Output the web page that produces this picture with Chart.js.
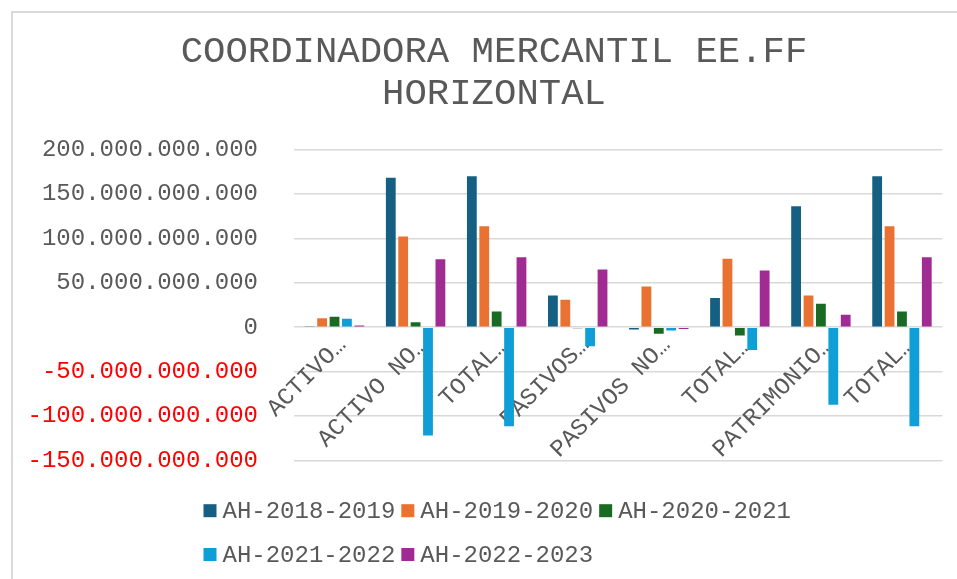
<!DOCTYPE html>
<html>
<head>
<meta charset="utf-8">
<script src="https://cdn.jsdelivr.net/npm/chart.js@4/dist/chart.umd.min.js"></script>
<style>
  html, body { margin: 0; padding: 0; background: #ffffff; }
  #wrap { width: 957px; height: 579px; }
</style>
</head>
<body>
<div id="wrap"><canvas id="c" width="957" height="579"></canvas></div>
<script>
// ---- data ----
const titleLines = ['COORDINADORA MERCANTIL EE.FF', 'HORIZONTAL'];
const categories = ['ACTIVO…', 'ACTIVO NO…', 'TOTAL…', 'PASIVOS…', 'PASIVOS NO…', 'TOTAL…', 'PATRIMONIO…', 'TOTAL…'];
const seriesNames = ['AH-2018-2019', 'AH-2019-2020', 'AH-2020-2021', 'AH-2021-2022', 'AH-2022-2023'];
const ah2018_2019 = [1.0e9, 168.0e9, 169.9e9, 35.7e9, -2.5e9, 32.7e9, 136.0e9, 169.9e9];
const ah2019_2020 = [10.1e9, 102.0e9, 113.5e9, 30.8e9, 45.8e9, 77.0e9, 35.7e9, 113.5e9];
const ah2020_2021 = [11.7e9, 5.6e9, 17.7e9, -1.2e9, -7.3e9, -9.4e9, 26.3e9, 17.7e9];
const ah2021_2022 = [9.4e9, -121.8e9, -111.6e9, -21.4e9, -3.8e9, -25.6e9, -87.2e9, -111.6e9];
const ah2022_2023 = [1.9e9, 76.3e9, 78.6e9, 65.0e9, -2.0e9, 63.9e9, 13.9e9, 78.6e9];
const yMin = -150e9, yMax = 200e9, yStep = 50e9;

const seriesValues = [ah2018_2019, ah2019_2020, ah2020_2021, ah2021_2022, ah2022_2023];
const seriesColors = ['#156082', '#E97132', '#196B24', '#0F9ED5', '#A02B93'];

const FONT = "'Liberation Mono', 'Courier New', monospace";
const TEXT = '#595959';

function fmt(v) {
  const s = Math.abs(Math.round(v)).toString().replace(/\B(?=(\d{3})+(?!\d))/g, '.');
  return (v < 0 ? '-' : '') + s;
}

const framePlugin = {
  id: 'frame',
  afterLayout(chart) {
    // let the y tick labels use the whole left margin (avoid clipping the minus signs)
    chart.scales.y.left = 0;
  },
  beforeDraw(chart) {
    const ctx = chart.ctx;
    ctx.save();
    ctx.fillStyle = '#ffffff';
    ctx.fillRect(0, 0, chart.width, chart.height);
    ctx.strokeStyle = '#d9d9d9';
    ctx.lineWidth = 2;
    ctx.beginPath();
    ctx.moveTo(12, chart.height);
    ctx.lineTo(12, 12);
    ctx.lineTo(chart.width, 12);
    ctx.stroke();
    ctx.restore();
  }
};

const legendPlugin = {
  id: 'rowsLegend',
  afterDraw(chart) {
    const ctx = chart.ctx;
    const rows = [[0, 1, 2], [3, 4]];
    const rowY = [510.7, 554.5];
    const startX = 203.5;
    const box = 13, gap = 6;
    ctx.save();
    ctx.font = '24px ' + FONT;
    ctx.textBaseline = 'middle';
    ctx.textAlign = 'left';
    rows.forEach((row, r) => {
      let x = startX;
      row.forEach(i => {
        const ds = chart.data.datasets[i];
        ctx.fillStyle = ds.backgroundColor;
        ctx.fillRect(x, rowY[r] - box / 2, box, box);
        ctx.fillStyle = TEXT;
        ctx.fillText(ds.label, x + box + gap, rowY[r] + 1);
        x += box + gap + ctx.measureText(ds.label).width + gap;
      });
    });
    ctx.restore();
  }
};

new Chart(document.getElementById('c'), {
  type: 'bar',
  data: {
    labels: categories,
    datasets: seriesNames.map((name, i) => ({
      label: name,
      data: seriesValues[i],
      backgroundColor: seriesColors[i],
      borderWidth: 0,
      categoryPercentage: 0.765,
      barPercentage: 0.79
    }))
  },
  options: {
    responsive: false,
    animation: false,
    devicePixelRatio: 1,
    layout: { padding: { left: 45.5, right: 14.5, top: 0, bottom: 118.5 } },
    plugins: {
      legend: { display: false },
      tooltip: { enabled: false },
      title: {
        display: true,
        text: titleLines,
        color: TEXT,
        font: { family: FONT, size: 37.3, weight: 'normal', lineHeight: 1.118 },
        padding: { top: 31.6, bottom: 34.4 }
      }
    },
    scales: {
      x: {
        position: { y: 0 },
        grid: { display: false, drawTicks: false },
        border: { display: false },
        afterFit: s => { s.paddingLeft = 0; s.paddingRight = 0; },
        ticks: {
          autoSkip: false,
          minRotation: 45,
          maxRotation: 45,
          padding: 4,
          labelOffset: 8,
          color: TEXT,
          font: { family: FONT, size: 24 }
        }
      },
      y: {
        min: yMin,
        max: yMax,
        afterFit: s => { s.width = 248.5; },
        grid: { color: '#d9d9d9', lineWidth: 1.5, drawTicks: false },
        border: { display: false },
        ticks: {
          stepSize: yStep,
          padding: 36,
          color: ctx => (ctx.tick && ctx.tick.value < 0 ? '#FF0000' : TEXT),
          font: { family: FONT, size: 24 },
          callback: v => fmt(v)
        }
      }
    }
  },
  plugins: [framePlugin, legendPlugin]
});
</script>
</body>
</html>
